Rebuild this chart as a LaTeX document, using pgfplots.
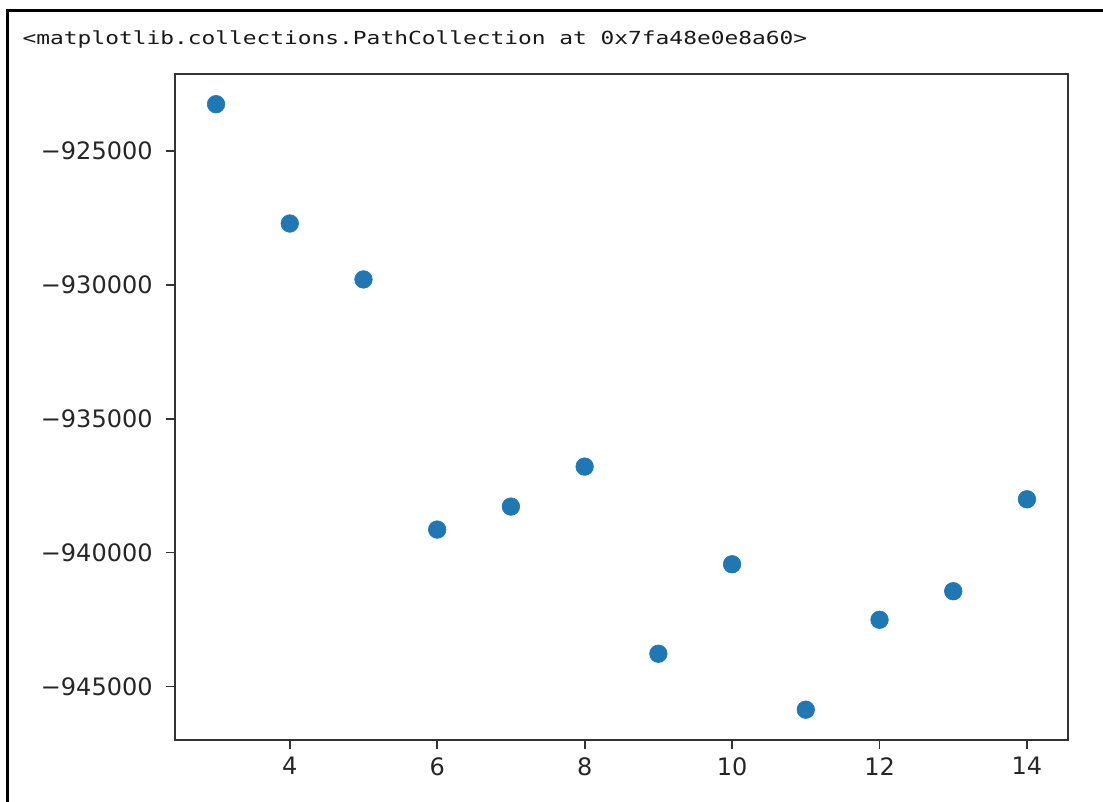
\documentclass[border=0pt]{standalone}
\usepackage{fontspec}
\setmainfont{DejaVu Sans}
\newfontfamily\monofont[FakeStretch=1.27]{DejaVu Sans Mono}
\usepackage{pgfplots}
\pgfplotsset{compat=1.18}
\definecolor{mplblue}{HTML}{1F77B4}
\begin{document}
\begin{tikzpicture}
\useasboundingbox (-87.75pt,-31pt) rectangle (463.75pt,370pt);
\fill[white] (-87.75pt,-31pt) rectangle (463.75pt,370pt);
% outer frame (only left and top edges visible)
\draw[line width=1.5pt, black] (-84.1pt,-31pt) -- (-84.1pt,364.5pt) -- (463.75pt,364.5pt);
\node[anchor=base west, inner sep=0pt, text=black!90] at (-76.6pt,347.75pt)
  {\fontsize{9pt}{10pt}\selectfont\monofont <matplotlib.collections.PathCollection at 0x7fa48e0e8a60>};
\begin{axis}[
    at={(0,0)}, anchor=south west,
    scale only axis,
    width=446pt, height=333pt,
    xmin=2.45, xmax=14.55,
    ymin=-947000, ymax=-922130,
    axis line style={black!80, line width=1pt},
    tick align=outside,
    major tick length=4.75pt,
    tick style={black!80, line width=0.9pt},
    xtick={4,6,8,10,12,14},
    xticklabels={4,6,8,10,12,14},
    ytick={-945000,-940000,-935000,-930000,-925000},
    yticklabels={−945000,−940000,−935000,−930000,−925000},
    scaled y ticks=false,
    xtick pos=bottom, ytick pos=left,
    ticklabel style={font=\fontsize{12pt}{14pt}\selectfont, text=black!85},
    yticklabel style={anchor=east, inner sep=0pt, xshift=-6.5pt},
    xticklabel style={anchor=north, inner sep=0pt, yshift=-3.75pt},
]
\addplot[color=mplblue, only marks, mark=*, mark size=4.4pt,
  mark options={draw=mplblue, fill=mplblue, line width=0.3pt}]
  coordinates {
    (3,-923257) (4,-927713) (5,-929802) (6,-939142)
    (7,-938284) (8,-936791) (9,-943780) (10,-940437)
    (11,-945869) (12,-942511) (13,-941444) (14,-938011)
  };
\end{axis}
\end{tikzpicture}
\end{document}
